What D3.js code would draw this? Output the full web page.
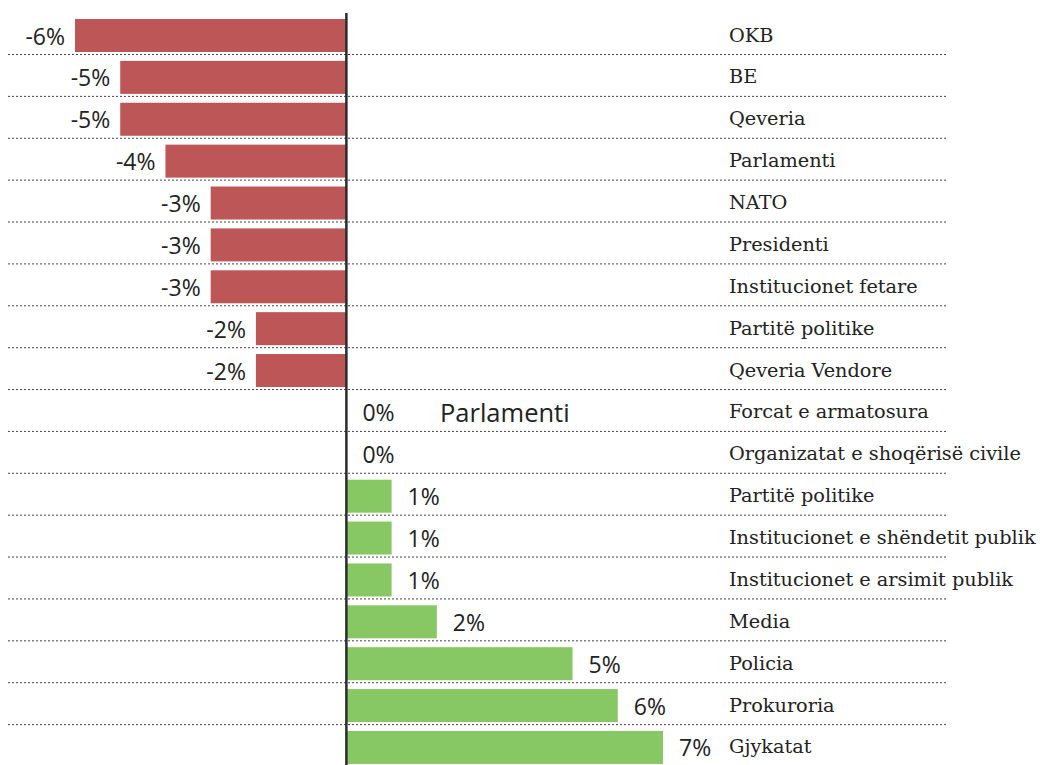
<!DOCTYPE html>
<html>
<head>
<meta charset="utf-8">
<script src="https://cdn.jsdelivr.net/npm/d3@7"></script>
<style>
  body { margin: 0; background: #fff; }
</style>
</head>
<body>
<div id="chart"></div>
<script>
// institutions, top to bottom
var categories = [
  "OKB", "BE", "Qeveria", "Parlamenti", "NATO", "Presidenti",
  "Institucionet fetare", "Partitë politike", "Qeveria Vendore",
  "Forcat e armatosura", "Organizatat e shoqërisë civile", "Partitë politike",
  "Institucionet e shëndetit publik", "Institucionet e arsimit publik",
  "Media", "Policia", "Prokuroria", "Gjykatat"
];
// change in percent
var values = [-6, -5, -5, -4, -3, -3, -3, -2, -2, 0, 0, 1, 1, 1, 2, 5, 6, 7];
var xDomain = [-6, 7];
var note = "Parlamenti";

var width = 1040, height = 765;
var rowTop = 13, rowStep = 41.88;

var svg = d3.select("#chart").append("svg")
  .attr("width", width)
  .attr("height", height);

var x = d3.scaleLinear().domain(xDomain).range([75, 663]);
var y = d3.scaleBand()
  .domain(d3.range(categories.length))
  .range([rowTop, rowTop + rowStep * categories.length]);

// dotted separators under each row except the last
svg.selectAll("line.sep")
  .data(d3.range(categories.length - 1))
  .enter().append("line")
  .attr("class", "sep")
  .attr("x1", 8).attr("x2", 948)
  .attr("y1", function(i) { return y(i) + 41.5; })
  .attr("y2", function(i) { return y(i) + 41.5; })
  .attr("stroke", "#444")
  .attr("stroke-width", 1)
  .attr("stroke-dasharray", "2,2");

// bars
svg.selectAll("rect.bar")
  .data(values)
  .enter().append("rect")
  .attr("class", "bar")
  .attr("x", function(d) { return x(Math.min(0, d)); })
  .attr("y", function(d, i) { return y(i) + 6; })
  .attr("width", function(d) { return Math.abs(x(d) - x(0)); })
  .attr("height", 33)
  .attr("fill", function(d) { return d < 0 ? "#bd5656" : "#88c864"; });

// zero line
svg.append("line")
  .attr("x1", x(0)).attr("x2", x(0))
  .attr("y1", rowTop).attr("y2", height)
  .attr("stroke", "#2b2b2b")
  .attr("stroke-width", 2.5);

// value labels
svg.selectAll("text.val")
  .data(values)
  .enter().append("text")
  .attr("class", "val")
  .attr("x", function(d) { return d < 0 ? x(d) - 10 : x(d) + 16; })
  .attr("y", function(d, i) { return y(i) + 6 + 16.5 + 9; })
  .attr("text-anchor", function(d) { return d < 0 ? "end" : "start"; })
  .attr("font-family", "'Open Sans', sans-serif")
  .attr("font-size", 23)
  .attr("fill", "#222")
  .text(function(d) { return d + "%"; });

// category labels
svg.selectAll("text.cat")
  .data(categories)
  .enter().append("text")
  .attr("class", "cat")
  .attr("x", 729)
  .attr("y", function(d, i) { return y(i) + 6 + 16.5 + 6; })
  .attr("font-family", "'DejaVu Serif', serif")
  .attr("font-size", 19.3)
  .attr("fill", "#222")
  .text(function(d) { return d; });

// stray annotation
svg.append("text")
  .attr("x", 440)
  .attr("y", y(9) + 6 + 16.5 + 10)
  .attr("font-family", "'Open Sans', sans-serif")
  .attr("font-size", 25.5)
  .attr("fill", "#222")
  .text(note);
</script>
</body>
</html>
